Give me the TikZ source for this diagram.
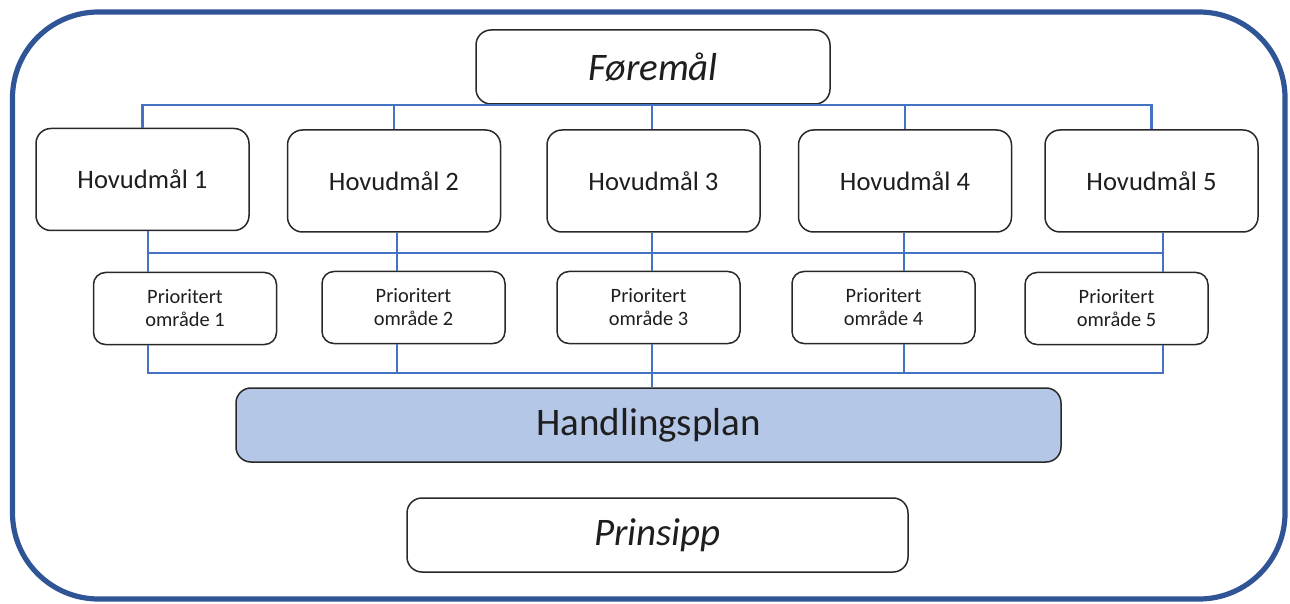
\documentclass[tikz,border=0pt]{standalone}
\usepackage{fontspec}
\setmainfont{Carlito}
\definecolor{framecol}{RGB}{47,85,151}
\definecolor{linecol}{RGB}{68,114,196}
\definecolor{hpfill}{RGB}{180,199,231}
\definecolor{boxline}{RGB}{40,40,40}
\definecolor{txt}{RGB}{30,30,30}
\begin{document}
\begin{tikzpicture}[x=0.5pt,y=-0.5pt,
  box/.style={draw=boxline,line width=0.75pt,rounded corners=7.5pt,inner sep=0pt,text=txt,align=center,fill=white},
  bigbox/.style={box,minimum width=177pt,minimum height=37pt,font=\fontsize{19.5}{23}\selectfont\itshape},
  hbox/.style={box,minimum width=106.5pt,minimum height=51pt,font=\fontsize{13.3}{16}\selectfont},
  pbox/.style={box,rounded corners=6pt,minimum width=91.5pt,minimum height=36pt,font=\fontsize{10.2}{11.5}\selectfont},
  conn/.style={draw=linecol,line width=1.4pt},
  frame/.style={draw=framecol,line width=2.6pt,rounded corners=43pt}]
\useasboundingbox (0,0) rectangle (1290,604);
\draw[frame] (12.5,12) rectangle (1285,599);
% nodes
\node[bigbox] (F) at (653,67) {Føremål};
\node[hbox] (h1) at (142.5,179.5) {Hovudmål 1};
\node[hbox] (h2) at (394,181) {Hovudmål 2};
\node[hbox] (h3) at (653.5,181) {Hovudmål 3};
\node[hbox] (h4) at (905,181) {Hovudmål 4};
\node[hbox] (h5) at (1151.5,181) {Hovudmål 5};
\node[pbox] (p1) at (185,308.5) {Prioritert\\område 1};
\node[pbox] (p2) at (413.5,307.5) {Prioritert\\område 2};
\node[pbox] (p3) at (648.5,307.5) {Prioritert\\område 3};
\node[pbox] (p4) at (883.5,307.5) {Prioritert\\område 4};
\node[pbox] (p5) at (1116.5,308.5) {Prioritert\\område 5};
\node[box,fill=hpfill,minimum width=412.5pt,minimum height=37pt,font=\fontsize{19.5}{23}\selectfont] (hp) at (648.5,425) {Handlingsplan};
\node[bigbox,minimum width=250.5pt] (pr) at (657.5,535) {Prinsipp};
% column and bus coordinates
\coordinate (c1) at (148,0);
\coordinate (c2) at (397,0);
\coordinate (c3) at (652,0);
\coordinate (c4) at (904,0);
\coordinate (c5) at (1163,0);
\coordinate (b1) at (0,105);
\coordinate (b2) at (0,253);
\coordinate (b3) at (0,373);
% top bus
\draw[conn] (h1.north) -- (h1.north |- b1) -- (h5.north |- b1) -- (h5.north);
\draw[conn] (h2.north) -- (h2.north |- b1);
\draw[conn] (h4.north) -- (h4.north |- b1);
\draw[conn] (F.south -| c3) -- (h3.north -| c3);
% middle bus
\draw[conn] (c1 |- b2) -- (c5 |- b2);
\draw[conn] (h1.south -| c1) -- (p1.north -| c1);
\draw[conn] (h2.south -| c2) -- (p2.north -| c2);
\draw[conn] (h3.south -| c3) -- (p3.north -| c3);
\draw[conn] (h4.south -| c4) -- (p4.north -| c4);
\draw[conn] (h5.south -| c5) -- (p5.north -| c5);
% bottom bus
\draw[conn] (p1.south -| c1) -- (c1 |- b3) -- (c5 |- b3) -- (p5.south -| c5);
\draw[conn] (p2.south -| c2) -- (c2 |- b3);
\draw[conn] (p4.south -| c4) -- (c4 |- b3);
\draw[conn] (p3.south -| c3) -- (hp.north -| c3);
\end{tikzpicture}
\end{document}
